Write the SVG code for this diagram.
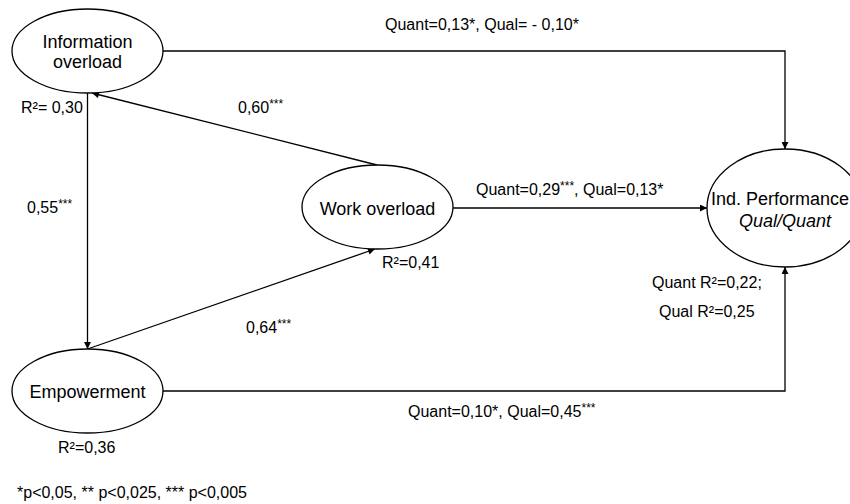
<svg xmlns="http://www.w3.org/2000/svg" width="850" height="504" viewBox="0 0 850 504">
<defs>
<marker id="arr" viewBox="0 0 10 10" refX="10" refY="5" markerWidth="9" markerHeight="7" markerUnits="userSpaceOnUse" orient="auto">
<path d="M0,0 L10,5 L0,10 Z" fill="#000"/>
</marker>
<style>
.node{fill:#fff;stroke:#000;stroke-width:1.3}
.nt{font-family:"Liberation Sans",Arial,sans-serif;font-size:18px;fill:#000;text-anchor:middle}
.lb{font-family:"Liberation Sans",Arial,sans-serif;font-size:16px;fill:#000}
.sup{font-size:12px}
.edge{fill:none;stroke:#000;stroke-width:1.3;marker-end:url(#arr)}
</style>
</defs>
<rect width="850" height="504" fill="#fff"/>
<g id="connectors">
<path class="edge" d="M163,51 L785,51 L785,149"/>
<path class="edge" d="M163,391 L785,391 L785,267"/>
<path class="edge" d="M87.5,93 L87.5,349"/>
<path class="edge" d="M377,165 L92,93"/>
<path class="edge" d="M87.5,349 L375,249"/>
<path class="edge" d="M453,208 L707,208"/>
</g>
<g id="info-overload">
<ellipse class="node" cx="87.5" cy="51" rx="75.5" ry="42"/>
<text class="nt" x="87.5" y="48">Information</text>
<text class="nt" x="87.5" y="68">overload</text>
</g>
<g id="work-overload">
<ellipse class="node" cx="377.5" cy="207" rx="75.5" ry="42"/>
<text class="nt" x="377.5" y="215">Work overload</text>
</g>
<g id="empowerment">
<ellipse class="node" cx="87.5" cy="391" rx="75.5" ry="42"/>
<text class="nt" x="87.5" y="398">Empowerment</text>
</g>
<g id="ind-performance">
<ellipse class="node" cx="785" cy="208" rx="78" ry="59"/>
<text class="nt" x="780" y="205">Ind. Performance</text>
<text class="nt" x="785" y="227" font-style="italic">Qual/Quant</text>
</g>
<g id="labels">
<text class="lb" x="385" y="30">Quant=0,13*, Qual= - 0,10*</text>
<text class="lb" x="238" y="113">0,60<tspan class="sup" dy="-5">***</tspan></text>
<text class="lb" x="21" y="113">R²= 0,30</text>
<text class="lb" x="27" y="213">0,55<tspan class="sup" dy="-5">***</tspan></text>
<text class="lb" x="476" y="195">Quant=0,29<tspan class="sup" dy="-5">***</tspan><tspan dy="5">, Qual=0,13*</tspan></text>
<text class="lb" x="382" y="268">R²=0,41</text>
<text class="lb" x="246" y="333">0,64<tspan class="sup" dy="-5">***</tspan></text>
<text class="lb" x="652" y="288">Quant R²=0,22;</text>
<text class="lb" x="659" y="317">Qual R²=0,25</text>
<text class="lb" x="408" y="417">Quant=0,10*, Qual=0,45<tspan class="sup" dy="-5">***</tspan></text>
<text class="lb" x="58" y="453">R²=0,36</text>
<text class="lb" x="17" y="498">*p&lt;0,05, ** p&lt;0,025, *** p&lt;0,005</text>
</g>
</svg>
